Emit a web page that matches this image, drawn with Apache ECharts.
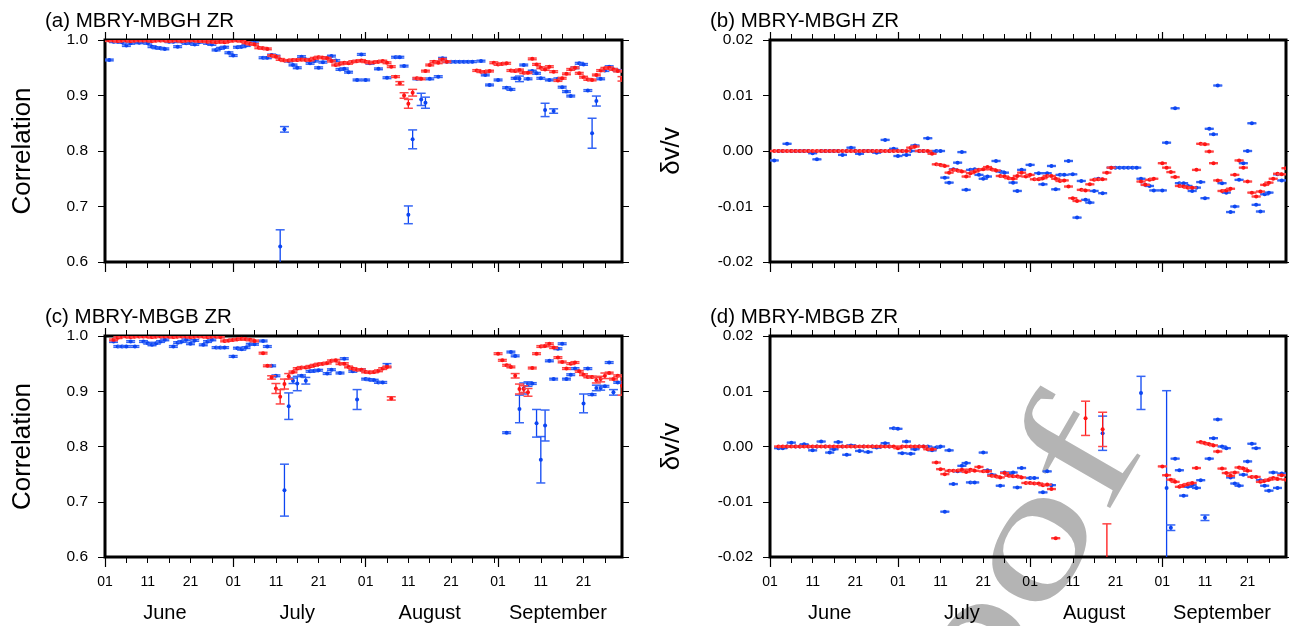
<!DOCTYPE html>
<html>
<head>
<meta charset="utf-8">
<script src="https://cdn.jsdelivr.net/npm/echarts@6/dist/echarts.min.js"></script>
<style>
  html, body { margin: 0; padding: 0; background: #fff; }
  #chart { width: 1289px; height: 626px; }
</style>
</head>
<body>
<div id="chart"></div>
<script>
// Time axis: 1 June .. 30 September, one category per day
const monthNames = ['June', 'July', 'August', 'September'];
const monthLengths = [30, 31, 31, 30];
const labelledDays = [1, 11, 21];

const panelTitles = ['(a) MBRY-MBGH ZR', '(b) MBRY-MBGH ZR', '(c) MBRY-MBGB ZR', '(d) MBRY-MBGB ZR'];

// Correlation, MBRY-MBGH (values indexed by day, 0 = 1 June)
const corrGH_red = [
  null, .999, .999, .998, .999, .999, .998, .999, .999, .999,
  .999, .998, .999, .999, .999, .998, .999, .999, .998, .999,
  .999, .999, .998, .998, .997, .997, .996, .997, .996, .998,
  .999, .999, .998, .995, .993, .992, .986, .985, .984, .972,
  .970, .965, .963, .963, .964, .964, .965, .964, .964, .967,
  .969, .968, .967, .962, .955, .957, .959, .958, .961, .962,
  .963, .961, .959, .960, .961, .962, .959, .952, .934, .922,
  .900, .885, .905, .931, .930, .944, .955, .961, .959, .965,
  .961, null, null, null, null, null, null, .945, .943, .943,
  .944, .959, .956, .957, .958, .945, .944, .946, .941, .941,
  .966, .956, .950, .947, .952, .943, .927, .931, .939, .947,
  .950, .940, .933, .929, .928, .937, .945, .949, .950, .947,
  .944, .930
];
const corrGH_blue = [
  null, .964, .997, .997, .996, .990, .994, .997, .995, .997,
  .994, .988, .986, .985, .984, .997, .997, .988, .997, .994,
  .995, .992, .996, .998, .994, .992, .982, .985, .987, .977,
  .972, .987, .988, .990, .992, .995, null, .968, .968, .973,
  .971, .628, .839, .962, .955, .950, .970, .965, .958, .962,
  .950, .960, .968, .971, .963, .947, .948, .942, null, .928,
  .974, .928, .958, null, .948, null, .932, null, .969, .969,
  .953, .685, .821, .930, .893, .887, .930, null, .934, .967,
  .961, .961, .961, .961, .961, .961, .961, null, .962, .937,
  .919, null, .928, null, .914, .911, .931, .930, .955, .930,
  .944, .940, .931, .874, .928, .872, .930, .915, .907, .899,
  .950, .958, .956, .909, .832, .890, .930, .945, .952, .947,
  .945, null
];
const corrGH_redErr = [[69, .003], [70, .005], [71, .008], [72, .006], [121, .004]];
const corrGH_blueErr = [[41, .03], [42, .005], [71, .016], [72, .017], [74, .011], [75, .010],
  [97, .005], [103, .012], [105, .004], [114, .027], [115, .009]];

// dv/v, MBRY-MBGH
const dvvGH_red = [
  null, 0, 0, 0, 0, 0, 0, 0, 0, 0,
  0, 0, 0, 0, 0, 0, 0, 0, 0, 0,
  0, 0, 0, 0, 0, 0, 0, 0, 0, 0,
  0, 0, 0, .0006, .0008, 0, 0, 0, -.0005, -.0024,
  -.0025, -.0027, -.0039, -.0034, -.0035, -.0037, -.0046, -.0040, -.0037, -.0034,
  -.0033, -.0029, -.0033, -.0035, -.0045, -.0046, -.0049, -.0050, -.0045, -.0039,
  -.0046, -.0043, -.0051, -.0051, -.0049, -.0045, -.0045, -.0050, -.0054, -.0053,
  -.0064, -.0085, -.0090, -.0070, -.0071, -.0060, -.0052, -.0051, -.0051, -.0039,
  -.0030, null, null, null, null, null, null, -.0055, -.0061, -.0052,
  -.0050, null, -.0022, -.0030, -.0038, -.0047, -.0063, -.0064, -.0066, -.0066,
  -.0034, .0013, .0012, -.0001, -.0022, -.0053, -.0072, -.0071, -.0068, -.0043,
  -.0017, -.0030, -.0055, -.0075, -.0082, -.0073, -.0061, -.0057, -.0050, -.0041,
  -.0042, -.0031
];
const dvvGH_blue = [
  null, -.0017, 0, 0, .0013, 0, 0, 0, 0, 0,
  -.0004, -.0015, 0, 0, 0, 0, 0, -.0007, 0, .0006,
  0, -.0005, 0, 0, 0, -.0003, 0, .0020, 0, .0004,
  -.0009, 0, -.0007, 0, .0010, 0, 0, .0023, -.0002, 0,
  0, -.0048, -.0057, -.0033, -.0021, -.0002, -.0070, -.0034, -.0033, -.0043,
  -.0050, -.0046, null, -.0018, -.0037, -.0039, null, -.0057, -.0072, -.0034,
  null, -.0025, null, -.0040, -.0060, -.0040, -.0027, -.0069, -.0043, -.0043,
  -.0018, -.0042, -.0120, -.0054, -.0088, -.0093, -.0072, -.0050, -.0076, null,
  -.0030, -.0030, -.0030, -.0030, -.0030, -.0030, -.0030, -.0050, -.0061, -.0063,
  -.0071, null, -.0071, .0015, null, .0077, -.0058, -.0058, -.0063, -.0072,
  -.0066, -.0056, -.0085, .0040, .0030, .0118, -.0058, -.0075, -.0110, -.0100,
  -.0052, -.0022, 0, .0050, -.0097, -.0109, -.0078, -.0075, null, -.0042,
  -.0053, null
];
const dvvGH_redErr = [];
const dvvGH_blueErr = [];

// Correlation, MBRY-MBGB
const corrGB_red = [
  null, null, .993, .997, .999, .999, .998, .999, .999, .999,
  .999, .998, .999, .999, .999, .999, .998, .999, .999, .999,
  .998, .999, .999, .999, .998, .999, .999, .998, .991, .992,
  .993, .994, .995, .994, .993, .991, null, .969, .946, .925,
  .905, .890, .913, .927, .935, .941, .943, .943, .945, .947,
  .949, .950, .951, .955, .956, .950, .950, .944, .941, .939,
  .939, .935, .934, .935, .937, .941, .944, .887, null, null,
  null, null, null, null, null, null, null, null, null, null,
  null, null, null, null, null, null, null, null, null, null,
  null, null, .968, .956, .947, .944, .928, .904, .904, .898,
  .942, .968, .981, .982, .986, .979, .961, .953, .941, .950,
  .952, .936, .930, .926, .926, .920, .922, .928, .933, .922,
  .928, .910
];
const corrGB_blue = [
  null, null, .990, .981, .981, .981, .990, .981, null, .990,
  .987, .984, .987, .990, .993, null, .981, .988, .990, .993,
  .986, .992, null, .984, .990, .993, .979, .979, .979, null,
  .963, .978, .976, .979, .985, .985, null, .991, .981, .946,
  .928, null, .721, .873, .919, .914, .928, .919, .936, .937,
  .938, null, .932, .939, null, .933, .959, null, .936, .885,
  .939, .922, .921, .920, .916, .916, .947, null, null, null,
  null, null, null, null, null, null, null, null, null, null,
  null, null, null, null, null, null, null, null, null, null,
  null, null, null, null, .825, .971, .964, .868, .905, .913,
  .914, .842, .776, .838, .955, .922, .977, .986, .922, .930,
  .941, null, .878, .941, .894, .906, .906, .909, .952, .898,
  .916, null
];
const corrGB_redErr = [[39, .003], [40, .009], [41, .013], [42, .009], [43, .005], [67, .003],
  [96, .004], [97, .009], [98, .006], [99, .007], [115, .005], [116, .005], [117, .005], [121, .017]];
const corrGB_blueErr = [[42, .047], [43, .024], [44, .005], [45, .013], [47, .006], [59, .018], [66, .003],
  [97, .025], [98, .010], [99, .004], [101, .025], [102, .042], [103, .028], [112, .017],
  [115, .005], [116, .004], [119, .005]];

// dv/v, MBRY-MBGB
const dvvGB_red = [
  null, null, 0, 0, 0, 0, 0, 0, 0, 0,
  0, 0, 0, 0, 0, 0, 0, 0, 0, 0,
  0, 0, 0, 0, 0, 0, 0, 0, 0, 0,
  -.0003, 0, 0, 0, 0, 0, 0, -.0005, -.0005, -.0029,
  -.0041, -.0050, -.0044, -.0044, -.0044, -.0042, -.0046, -.0042, -.0044, -.0037,
  -.0045, -.0045, -.0053, -.0054, -.0056, -.0048, -.0053, -.0054, -.0054, -.0056,
  -.0066, -.0066, -.0067, -.0067, -.0070, -.0069, -.0077, -.0166, null, null,
  null, null, null, null, .0051, null, null, null, .0031, -.0250,
  null, null, null, null, null, null, null, null, null, null,
  null, null, -.0036, -.0052, -.0060, -.0064, -.0073, -.0070, -.0068, -.0066,
  -.0039, .0008, .0006, .0004, .0002, -.0009, -.0040, -.0048, -.0053, -.0047,
  -.0038, -.0040, -.0044, -.0055, -.0055, -.0064, -.0062, -.0060, -.0057, -.0059,
  -.0052, -.0060
];
const dvvGB_blue = [
  null, null, -.0003, -.0003, 0, .0007, 0, 0, .0004, 0,
  -.0007, 0, .0009, 0, -.0011, -.0005, .0008, 0, -.0015, .0002,
  0, -.0008, 0, -.0010, 0, -.0002, 0, .0006, 0, .0033,
  .0032, -.0012, .0009, -.0013, -.0005, 0, 0, 0, -.0007, -.0002,
  0, -.0118, -.0007, -.0068, -.0045, -.0035, -.0030, -.0065, -.0065, null,
  -.0011, -.0043, -.0051, null, -.0071, -.0047, -.0050, -.0047, -.0074, -.0039,
  null, -.0057, -.0057, null, -.0083, -.0045, -.0070, null, null, null,
  null, null, null, null, null, null, null, null, .0024, null,
  null, null, null, null, null, null, null, .0097, null, null,
  null, null, null, -.0075, -.0147, -.0022, -.0043, -.0089, -.0073, -.0070,
  -.0075, -.0061, -.0129, -.0022, .0015, .0049, 0, -.0003, -.0056, -.0067,
  -.0071, -.0051, -.0027, .0005, -.0003, -.0061, -.0071, -.0080, -.0047, -.0075,
  -.0049, null
];
const dvvGB_redErr = [[74, .0031], [78, .0031], [79, .011]];
const dvvGB_blueErr = [[78, .0031], [87, .003], [93, .0176], [94, .0005], [102, .0005]];

const corrTicks = { min: 0.6, max: 1.0, step: 0.1, digits: 1 };
const dvvTicks = { min: -0.02, max: 0.02, step: 0.01, digits: 2 };

// ---- build the day axis ----
const dayCats = [], dayOfMonth = [], monthOf = [];
monthLengths.forEach((len, m) => {
  for (let d = 1; d <= len; d++) {
    dayCats.push(String(d).padStart(2, '0'));
    dayOfMonth.push(d);
    monthOf.push(m);
  }
});
const isFiveDayTick = i => dayOfMonth[i] % 5 === 1;
const isMonthStart = i => dayOfMonth[i] === 1;
const isDayLabel = i => labelledDays.indexOf(dayOfMonth[i]) >= 0;
const isMonthMiddle = i => dayOfMonth[i] === Math.ceil(monthLengths[monthOf[i]] / 2);

const RED = '#ff1414', RED_CAP = '#ff4545';
const BLUE = '#0c45f2', BLUE_CAP = '#3566f5';
const FONT = 'Liberation Sans';

function toItems(values, errs, defaultErr) {
  const errMap = {};
  errs.forEach(([d, e]) => { errMap[d] = e; });
  const out = [];
  values.forEach((v, d) => {
    if (v !== null) out.push([d, v, errMap[d] !== undefined ? errMap[d] : defaultErr]);
  });
  return out;
}

function makeRenderer(color, capColor) {
  return function (params, api) {
    const x = api.value(0), v = api.value(1), e = api.value(2);
    const p = api.coord([x, v]);
    const hi = api.coord([x, v + e]);
    const lo = api.coord([x, v - e]);
    const hw = 4.5;
    return {
      type: 'group',
      children: [
        { type: 'line', shape: { x1: p[0], y1: hi[1], x2: p[0], y2: lo[1] }, style: { stroke: color, lineWidth: 1.3 } },
        { type: 'line', shape: { x1: p[0] - hw, y1: hi[1], x2: p[0] + hw, y2: hi[1] }, style: { stroke: capColor, lineWidth: 1.5 } },
        { type: 'line', shape: { x1: p[0] - hw, y1: lo[1], x2: p[0] + hw, y2: lo[1] }, style: { stroke: capColor, lineWidth: 1.5 } },
        { type: 'circle', shape: { cx: p[0], cy: p[1], r: 2 }, style: { fill: color } }
      ]
    };
  };
}

const panels = [
  { title: panelTitles[0], left: 105, top: 40, width: 517, height: 222, ticks: corrTicks, name: 'Correlation', nameGap: 69,
    red: corrGH_red, blue: corrGH_blue, redErr: corrGH_redErr, blueErr: corrGH_blueErr, defErr: 0.0015, labels: false },
  { title: panelTitles[1], left: 770, top: 40, width: 516, height: 222, ticks: dvvTicks, name: 'δv/v', nameGap: 85,
    red: dvvGH_red, blue: dvvGH_blue, redErr: dvvGH_redErr, blueErr: dvvGH_blueErr, defErr: 0.00008, labels: false },
  { title: panelTitles[2], left: 105, top: 336, width: 517, height: 221, ticks: corrTicks, name: 'Correlation', nameGap: 69,
    red: corrGB_red, blue: corrGB_blue, redErr: corrGB_redErr, blueErr: corrGB_blueErr, defErr: 0.0015, labels: true },
  { title: panelTitles[3], left: 770, top: 336, width: 516, height: 221, ticks: dvvTicks, name: 'δv/v', nameGap: 85,
    red: dvvGB_red, blue: dvvGB_blue, redErr: dvvGB_redErr, blueErr: dvvGB_blueErr, defErr: 0.00008, labels: true }
];

const grid = [], xAxis = [], yAxis = [], series = [], title = [];

panels.forEach((pn, g) => {
  grid.push({ left: pn.left, top: pn.top, width: pn.width, height: pn.height,
    show: true, borderColor: '#000', borderWidth: 3, backgroundColor: 'transparent', containLabel: false });
  title.push({ text: pn.title, left: pn.left - 60, top: pn.top - 29, padding: 0,
    textStyle: { fontSize: 20.5, fontWeight: 'normal', color: '#000', fontFamily: FONT } });

  const baseX = { type: 'category', gridIndex: g, data: dayCats, boundaryGap: false,
    axisLine: { show: false, onZero: false }, splitLine: { show: false } };
  const mainX = xAxis.length;
  // five-day ticks with day labels (bottom)
  xAxis.push(Object.assign({}, baseX, { position: 'bottom',
    axisTick: { show: true, interval: isFiveDayTick, length: 6, lineStyle: { color: '#000', width: 1 } },
    axisLabel: { show: pn.labels, interval: isDayLabel, margin: 18, fontSize: 14, color: '#000', fontFamily: FONT } }));
  // month-start ticks (bottom)
  xAxis.push(Object.assign({}, baseX, { position: 'bottom',
    axisTick: { show: true, interval: isMonthStart, length: 10, lineStyle: { color: '#000', width: 1.2 } },
    axisLabel: { show: false } }));
  // mirrored ticks on top
  xAxis.push(Object.assign({}, baseX, { position: 'top',
    axisTick: { show: true, interval: isFiveDayTick, length: 6, lineStyle: { color: '#000', width: 1 } },
    axisLabel: { show: false } }));
  xAxis.push(Object.assign({}, baseX, { position: 'top',
    axisTick: { show: true, interval: isMonthStart, length: 8, lineStyle: { color: '#000', width: 1.2 } },
    axisLabel: { show: false } }));
  if (pn.labels) {
    // month names under the day labels
    xAxis.push(Object.assign({}, baseX, { position: 'bottom',
      axisTick: { show: false },
      axisLabel: { show: true, interval: isMonthMiddle, margin: 46, fontSize: 20, color: '#000', fontFamily: FONT,
        formatter: (v, i) => monthNames[monthOf[i]] } }));
  }

  const t = pn.ticks;
  const mainY = yAxis.length;
  yAxis.push({ type: 'value', gridIndex: g, position: 'left', min: t.min, max: t.max, interval: t.step,
    axisLine: { show: false, onZero: false }, splitLine: { show: false },
    axisTick: { show: true, length: 7, lineStyle: { color: '#000', width: 1 } },
    axisLabel: { margin: 17, fontSize: 15.5, color: '#000', fontFamily: FONT, formatter: v => v.toFixed(t.digits) },
    name: pn.name, nameLocation: 'middle', nameGap: pn.nameGap, nameRotate: 90,
    nameTextStyle: { fontSize: 26, color: '#000', fontFamily: FONT } });
  yAxis.push({ type: 'value', gridIndex: g, position: 'right', min: t.min, max: t.max, interval: t.step,
    axisLine: { show: false, onZero: false }, splitLine: { show: false },
    axisTick: { show: true, length: 7, lineStyle: { color: '#000', width: 1 } },
    axisLabel: { show: false } });

  series.push({ type: 'custom', xAxisIndex: mainX, yAxisIndex: mainY, clip: true, z: 2,
    data: toItems(pn.blue, pn.blueErr, pn.defErr), renderItem: makeRenderer(BLUE, BLUE_CAP) });
  series.push({ type: 'custom', xAxisIndex: mainX, yAxisIndex: mainY, clip: true, z: 3,
    data: toItems(pn.red, pn.redErr, pn.defErr), renderItem: makeRenderer(RED, RED_CAP) });
});

const chart = echarts.init(document.getElementById('chart'), null, { renderer: 'canvas' });
chart.setOption({
  animation: false,
  backgroundColor: '#fff',
  textStyle: { fontFamily: FONT },
  title, grid, xAxis, yAxis, series,
  graphic: [{
    // wide, slanted "Proof" stamp lying behind the plots
    type: 'text', z: -1, x: 970, y: 659, rotation: 60 * Math.PI / 180, scaleX: 1.4, scaleY: 1,
    style: { text: 'Proof', fontSize: 175, fontFamily: 'Liberation Serif', fill: '#b4b4b4',
      align: 'center', verticalAlign: 'middle' }
  }]
});
</script>
</body>
</html>
